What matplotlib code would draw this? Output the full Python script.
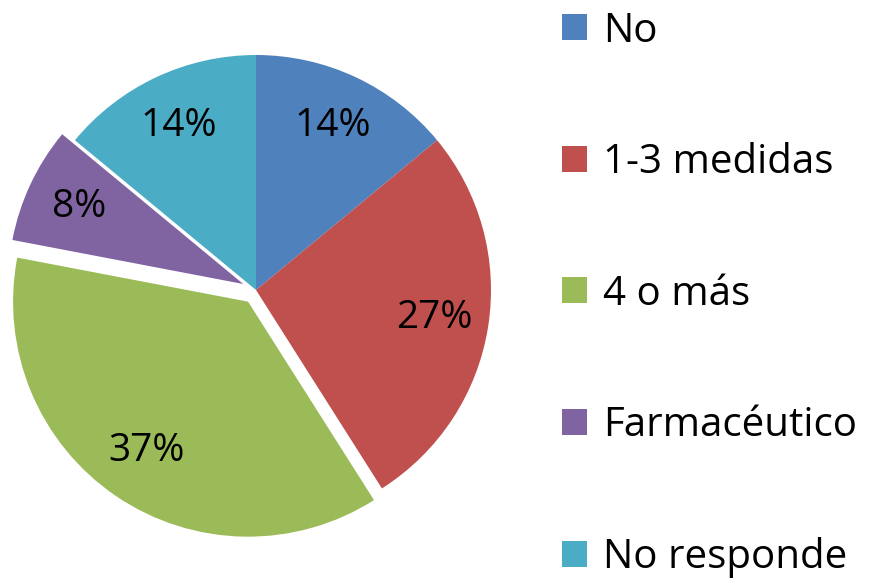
import matplotlib
matplotlib.use('Agg')
import matplotlib.pyplot as plt

plt.rcParams['font.family'] = ['Open Sans', 'DejaVu Sans']

# data
labels = ['No', '1-3 medidas', '4 o más', 'Farmacéutico', 'No responde']
values = [14, 27, 37, 8, 14]
colors = ['#4F81BD', '#C0504D', '#9BBB59', '#8064A2', '#4BACC6']
explode = [0, 0, 0.06, 0.06, 0]

W, H = 869, 578
fig = plt.figure(figsize=(W / 100, H / 100), dpi=100)

# pie centre (256, 290) px, radius 235 px
cx, cy, r = 256, 290, 235
ax = fig.add_axes([(cx - r) / W, (H - cy - r) / H, 2 * r / W, 2 * r / H])
wedges, texts, autotexts = ax.pie(values, colors=colors, explode=explode,
                                  startangle=90, counterclock=False,
                                  autopct='%1.0f%%', pctdistance=0.77,
                                  radius=1, wedgeprops=dict(linewidth=0),
                                  textprops=dict(fontsize=28, color='black'))
for w in wedges:
    w.set_clip_on(False)
ax.set_xlim(-1, 1)
ax.set_ylim(-1, 1)
ax.set_aspect('equal')
ax.axis('off')

leg = fig.legend(wedges, labels, loc='upper left', bbox_to_anchor=(560 / W, 1 - 9 / H),
                 frameon=False, fontsize=29, handlelength=0.62, handleheight=0.62,
                 handletextpad=0.4, labelspacing=2.26, borderaxespad=0, borderpad=0.05)

fig.savefig('out.png', dpi=100)
